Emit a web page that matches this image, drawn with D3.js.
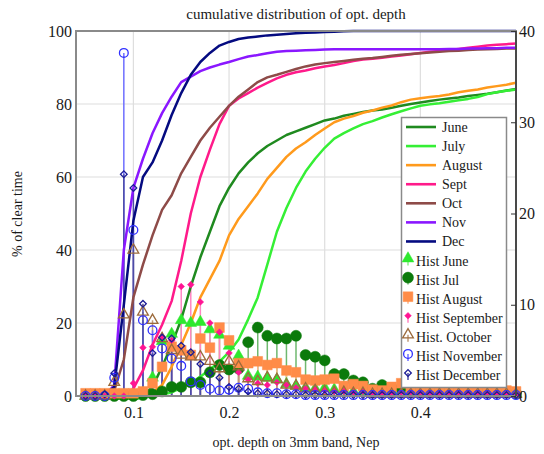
<!DOCTYPE html>
<html>
<head>
<meta charset="utf-8">
<script src="https://cdn.jsdelivr.net/npm/d3@7"></script>
<style>
  body { margin: 0; background: #fff; }
  text { font-family: "Liberation Serif", "Times New Roman", serif; fill: #1a1a1a; }
</style>
</head>
<body>
<div id="chart"></div>
<script>
// opt. depth bins, Nep
var tau = [0.05, 0.06, 0.07, 0.08, 0.09, 0.10, 0.11, 0.12, 0.13, 0.14,
           0.15, 0.16, 0.17, 0.18, 0.19, 0.20, 0.21, 0.22, 0.23, 0.24,
           0.25, 0.26, 0.27, 0.28, 0.29, 0.30, 0.31, 0.32, 0.33, 0.34,
           0.35, 0.36, 0.37, 0.38, 0.39, 0.40, 0.41, 0.42, 0.43, 0.44,
           0.45, 0.46, 0.47, 0.48, 0.49, 0.50];

// cumulative distributions, % of clear time (left axis)
var cumJune = [0, 0, 0, 0, 0, 0, 0.3, 2.5, 8, 14,
               21, 30, 38, 45, 52, 57, 61, 64, 66.5, 68.5,
               70, 71.5, 72.5, 73.5, 74.5, 75.5, 76, 76.8, 77.3, 77.8,
               78.2, 78.5, 79, 79.5, 80, 80.4, 80.8, 81.2, 81.5, 81.8,
               82.2, 82.5, 82.8, 83.2, 83.7, 84.1];
var cumJuly = [0, 0, 0, 0, 0, 0, 0, 0, 0.3, 1.0,
               2.2, 3.5, 5.3, 7.3, 9.4, 12, 15.5, 21, 27, 36,
               45, 51.5, 57, 61.5, 65, 68, 70.5, 72, 73.3, 74.5,
               75.3, 76.3, 77.2, 78, 78.8, 79.5, 79.9, 80.2, 80.6, 81,
               81.4, 81.9, 82.7, 83.2, 83.6, 84];
var cumAugust = [0, 0, 0, 0, 0, 0, 0.3, 1, 3, 8,
                 14, 20, 27, 32, 37, 44, 48.5, 52, 55.5, 59.5,
                 62.5, 65.5, 67.8, 69.5, 71.5, 73.3, 75, 76, 76.7, 77.6,
                 78.2, 79, 79.6, 80.5, 81.2, 81.6, 81.9, 82.2, 82.6, 83.2,
                 83.6, 84, 84.5, 84.9, 85.3, 85.8];
var cumSept = [0, 0, 0, 0, 0, 2, 7, 14, 19.5, 26,
               37, 50, 60, 67.5, 74.5, 79.5, 81.5, 83, 84.5, 85.8,
               87, 88, 88.7, 89.2, 89.8, 90.3, 90.7, 91.2, 91.8, 92.2,
               92.4, 92.7, 93, 93.3, 93.6, 94, 94.3, 94.5, 94.8, 95.1,
               95.4, 95.7, 96, 96.2, 96.4, 96.6];
var cumOct = [0, 0, 0, 1.5, 10, 27, 36, 44, 51, 55,
              61, 65.5, 70, 73.5, 76.5, 79.5, 82, 84, 86, 87.3,
              88, 88.8, 89.6, 90.3, 90.8, 91.2, 91.5, 91.8, 92.1, 92.4,
              92.6, 92.9, 93.2, 93.5, 93.7, 93.9, 94.1, 94.3, 94.5, 94.6,
              94.8, 94.9, 95, 95.1, 95.2, 95.2];
var cumNov = [0, 0, 0, 3, 40, 57, 65, 72, 77.5, 82,
              86, 87.5, 89, 90, 90.8, 91.5, 92.3, 93, 93.4, 93.9,
              94.3, 94.5, 94.6, 94.7, 94.8, 94.9, 95, 95, 95, 95,
              95, 95, 95, 95, 95, 95, 95, 95, 95.1, 95.1,
              95.2, 95.2, 95.3, 95.3, 95.4, 95.4];
var cumDec = [0, 0, 0.3, 2.5, 25, 48, 60, 64, 70, 77,
              83, 88, 91.5, 94, 96, 97, 97.8, 98.2, 98.5, 98.8,
              99, 99.2, 99.4, 99.5, 99.6, 99.7, 99.8, 99.9, 100, 100,
              100, 100, 100, 100, 100, 100, 100, 100, 100, 100,
              100, 100, 100, 100, 100, 100];

// histograms, % per bin (right axis)
var histJune = [0, 0, 0, 0, 0, 0, 0.3, 2.0, 6.0, 6.8,
                8.3, 8.0, 8.1, 7.3, 6.7, 5.5, 4.4, 2.2, 2.1, 2.0,
                1.8, 1.3, 1.1, 0.9, 0.8, 0.9, 0.7, 0.6, 0.5, 0.5,
                0.4, 0.5, 0.4, 0.6, 0.4, 0.4, 0.3, 0.4, 0.3, 0.3,
                0.3, 0.3, 0.4, 0.3, 0.3, 0.3];
var histJul = [0, 0, 0, 0, 0, 0, 0.1, 0.2, 0.5, 1.0,
               1.0, 1.5, 1.5, 2.6, 3.4, 2.9, 3.0, 5.9, 7.5, 6.6,
               6.3, 6.3, 6.6, 4.5, 4.3, 3.9, 2.4, 2.4, 1.7, 1.5,
               0.8, 1.2, 0.8, 0.9, 1.0, 0.6, 0.5, 0.5, 0.6, 0.4,
               0.4, 0.5, 0.4, 0.4, 0.4, 0.3];
var histAugust = [0.3, 0.3, 0.3, 0.3, 0.3, 0.3, 0.5, 1.4, 3.2, 5.4,
                  5.0, 4.5, 6.3, 5.3, 7.5, 6.1, 3.6, 3.6, 3.8, 3.4,
                  3.6, 2.8, 2.6, 1.8, 1.7, 1.8, 1.9, 1.1, 1.3, 1.1,
                  0.7, 0.6, 1.0, 1.4, 0.8, 0.7, 0.6, 0.8, 0.6, 0.7,
                  0.6, 0.6, 0.7, 0.5, 0.6, 0.5];
var histSeptember = [0, 0, 0, 0, 0, 1.4, 5.3, 5.4, 6.5, 6.1,
                     12.0, 12.2, 10.3, 8.0, 7.0, 4.7, 2.6, 1.8, 1.4, 1.2,
                     1.5, 1.2, 0.9, 0.8, 0.7, 0.6, 0.5, 0.5, 0.4, 0.5,
                     0.3, 0.3, 0.3, 0.4, 0.4, 0.4, 0.3, 0.3, 0.3, 0.3,
                     0.3, 0.3, 0.3, 0.2, 0.2, 0.2];
var histOctober = [0, 0, 0, 1.5, 8.9, 16.0, 9.2, 8.3, 6.3, 5.0,
                   4.5, 4.3, 4.3, 3.8, 3.0, 3.8, 3.2, 1.9, 1.6, 2.0,
                   1.8, 1.2, 1.1, 0.8, 0.6, 0.5, 0.4, 0.4, 0.3, 0.3,
                   0.2, 0.2, 0.2, 0.2, 0.2, 0.2, 0.2, 0.2, 0.2, 0.2,
                   0.2, 0.2, 0.2, 0.2, 0.2, 0.2];
var histNovember = [0, 0, 0, 2.0, 37.6, 18.2, 8.3, 7.2, 5.2, 4.1,
                    3.3, 1.6, 1.2, 0.8, 0.6, 0.7, 0.9, 0.8, 0.4, 0.3,
                    0.3, 0.2, 0.2, 0.1, 0.1, 0.1, 0.1, 0.1, 0.1, 0.1,
                    0.1, 0.1, 0.1, 0.1, 0.1, 0.1, 0.1, 0.1, 0.1, 0.1,
                    0.1, 0.1, 0.1, 0.1, 0.1, 0.1];
var histDecember = [0, 0, 0.2, 2.5, 24.3, 22.8, 10.1, 4.7, 6.4, 6.3,
                    5.5, 4.8, 3.5, 2.5, 2.0, 1.0, 0.8, 0.5, 0.3, 0.3,
                    0.2, 0.2, 0.2, 0.1, 0.1, 0.1, 0.1, 0.1, 0.1, 0.1,
                    0.1, 0.1, 0.1, 0.1, 0.1, 0.1, 0.1, 0.1, 0.1, 0.1,
                    0.1, 0.1, 0.1, 0.1, 0.1, 0.1];

var leftTicks = [0, 20, 40, 60, 80, 100];
var rightTicks = [0, 10, 20, 30, 40];
var xTicks = [0.1, 0.2, 0.3, 0.4];

var lines = [
    { name: "June", values: cumJune, color: "#1f8a1f" },
    { name: "July", values: cumJuly, color: "#35ef35" },
    { name: "August", values: cumAugust, color: "#ff9a1c" },
    { name: "Sept", values: cumSept, color: "#ff1a8a" },
    { name: "Oct", values: cumOct, color: "#8e4b48" },
    { name: "Nov", values: cumNov, color: "#8a17ff" },
    { name: "Dec", values: cumDec, color: "#040a80" }
];

var hists = [
    { name: "Hist June", values: histJune, color: "#2ee82e", stem: "#86ef86", shape: d3.symbolTriangle, size: 60, fill: true, rot: 0 },
    { name: "Hist Jul", values: histJul, color: "#0b7a0b", stem: "#6fb86f", shape: d3.symbolCircle, size: 95, fill: true, rot: 0 },
    { name: "Hist August", values: histAugust, color: "#ff8c48", stem: "#ffb585", shape: d3.symbolSquare, size: 95, fill: true, rot: 0 },
    { name: "Hist September", values: histSeptember, color: "#ff1493", stem: "#ff85c2", shape: d3.symbolSquare, size: 22, fill: true, rot: 45 },
    { name: "Hist. October", values: histOctober, color: "#9c6a3c", stem: "#bf9a78", shape: d3.symbolTriangle, size: 50, fill: false, rot: 0 },
    { name: "Hist November", values: histNovember, color: "#3030ff", stem: "#6f6fff", shape: d3.symbolCircle, size: 60, fill: false, rot: 0 },
    { name: "Hist December", values: histDecember, color: "#1c1c96", stem: "#4c4ca6", shape: d3.symbolSquare, size: 22, fill: false, rot: 45 }
];

var width = 544, height = 454;
var plot = { left: 76, right: 516, top: 31, bottom: 396 };

var svg = d3.select("#chart")
    .append("svg")
    .attr("width", width)
    .attr("height", height)
    .style("background", "#fff");

var x = d3.scaleLinear().domain([0.04, 0.5]).range([plot.left, plot.right]);
var yLeft = d3.scaleLinear().domain([0, 100]).range([plot.bottom, plot.top]);
var yRight = d3.scaleLinear().domain([0, 40]).range([plot.bottom, plot.top]);

// grid
svg.append("g").selectAll("line")
    .data(leftTicks.slice(1, -1))
    .enter().append("line")
    .attr("x1", plot.left).attr("x2", plot.right)
    .attr("y1", d => yLeft(d)).attr("y2", d => yLeft(d))
    .attr("stroke", "#dedede").attr("stroke-width", 1.2);
svg.append("g").selectAll("line")
    .data(xTicks)
    .enter().append("line")
    .attr("x1", d => x(d)).attr("x2", d => x(d))
    .attr("y1", plot.top).attr("y2", plot.bottom)
    .attr("stroke", "#dedede").attr("stroke-width", 1.2);

// histogram stems
hists.forEach(function (h) {
    svg.append("g").selectAll("line")
        .data(h.values)
        .enter().append("line")
        .attr("x1", (d, i) => x(tau[i])).attr("x2", (d, i) => x(tau[i]))
        .attr("y1", yRight(0)).attr("y2", d => yRight(d))
        .attr("stroke", h.stem).attr("stroke-width", 1.5);
});

// cumulative curves
var line = d3.line()
    .x((d, i) => x(tau[i]))
    .y(d => yLeft(d));

lines.forEach(function (l) {
    svg.append("path")
        .datum(l.values)
        .attr("d", line)
        .attr("fill", "none")
        .attr("stroke", l.color)
        .attr("stroke-width", 2.5)
        .attr("stroke-linejoin", "round");
});

// histogram markers
function drawMarker(g, h) {
    g.append("path")
        .attr("d", d3.symbol().type(h.shape).size(h.size)())
        .attr("transform", "rotate(" + h.rot + ")")
        .attr("fill", h.fill ? h.color : "none")
        .attr("stroke", h.color)
        .attr("stroke-width", h.fill ? 0.5 : 1.3);
}

hists.forEach(function (h) {
    var g = svg.append("g");
    h.values.forEach(function (v, i) {
        var m = g.append("g")
            .attr("transform", "translate(" + x(tau[i]) + "," + yRight(v) + ")");
        drawMarker(m, h);
    });
});

// frame
svg.append("rect")
    .attr("x", plot.left).attr("y", plot.top)
    .attr("width", plot.right - plot.left).attr("height", plot.bottom - plot.top)
    .attr("fill", "none").attr("stroke", "#8a8a8a").attr("stroke-width", 2);
svg.append("line")
    .attr("x1", plot.right).attr("x2", plot.right)
    .attr("y1", plot.top).attr("y2", plot.bottom)
    .attr("stroke", "#333").attr("stroke-width", 1.5);

// axes
var leftAxis = svg.append("g")
    .attr("transform", "translate(" + plot.left + ",0)")
    .call(d3.axisLeft(yLeft).tickValues(leftTicks).tickSize(0).tickPadding(4));
var rightAxis = svg.append("g")
    .attr("transform", "translate(" + plot.right + ",0)")
    .call(d3.axisRight(yRight).tickValues(rightTicks).tickSize(-5).tickPadding(3));
var bottomAxis = svg.append("g")
    .attr("transform", "translate(0," + plot.bottom + ")")
    .call(d3.axisBottom(x).tickValues(xTicks).tickFormat(d3.format(".1f")).tickSize(0).tickPadding(11));

[leftAxis, rightAxis, bottomAxis].forEach(function (a) {
    a.select(".domain").remove();
    a.selectAll("text")
        .style("font-family", '"Liberation Serif", serif')
        .style("font-size", "16px")
        .attr("fill", "#1a1a1a");
    a.selectAll("line").attr("stroke", "#333");
});

// titles
svg.append("text")
    .attr("x", 296).attr("y", 19)
    .attr("text-anchor", "middle")
    .style("font-size", "15px")
    .text("cumulative distribution of opt. depth");

svg.append("text")
    .attr("x", 296).attr("y", 447)
    .attr("text-anchor", "middle")
    .style("font-size", "14px")
    .text("opt. depth on 3mm band, Nep");

svg.append("text")
    .attr("transform", "translate(22,214) rotate(-90)")
    .attr("text-anchor", "middle")
    .style("font-size", "14px")
    .text("% of clear time");

// legend
var legend = svg.append("g");
legend.append("rect")
    .attr("x", 401.5).attr("y", 117.5)
    .attr("width", 105).attr("height", 270)
    .attr("fill", "#fff").attr("stroke", "#8a8a8a").attr("stroke-width", 1.5);

var rowY = d3.scaleLinear().domain([0, 13]).range([127, 375]);

lines.forEach(function (l, i) {
    var y = rowY(i);
    legend.append("line")
        .attr("x1", 406).attr("x2", 436)
        .attr("y1", y).attr("y2", y)
        .attr("stroke", l.color).attr("stroke-width", 2.6);
    legend.append("text")
        .attr("x", 442).attr("y", y + 5)
        .style("font-size", "14px")
        .text(l.name);
});

hists.forEach(function (h, j) {
    var y = rowY(j + 7);
    legend.append("line")
        .attr("x1", 408).attr("x2", 408)
        .attr("y1", y - 2).attr("y2", y + 5)
        .attr("stroke", h.stem).attr("stroke-width", 1.5);
    var m = legend.append("g").attr("transform", "translate(408," + (y - 2) + ")");
    drawMarker(m, h);
    legend.append("text")
        .attr("x", 416).attr("y", y + 5)
        .style("font-size", "14px")
        .text(h.name);
});
</script>
</body>
</html>
